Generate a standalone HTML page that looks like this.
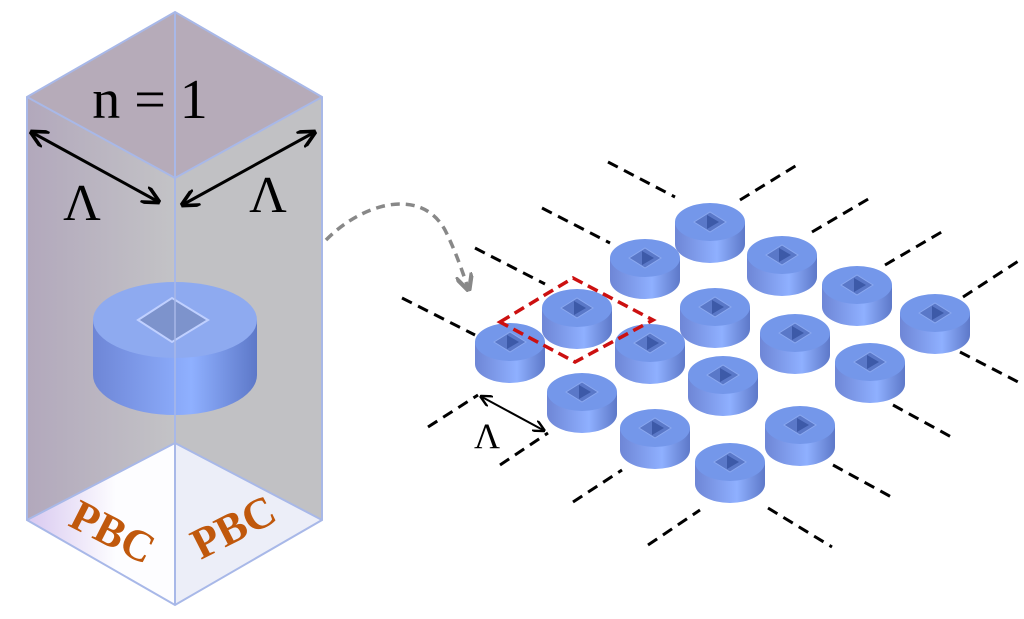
<!DOCTYPE html>
<html><head><meta charset="utf-8"><style>body{margin:0;background:#fff}svg{display:block}</style></head><body>
<svg width="1024" height="619" viewBox="0 0 1024 619" xmlns="http://www.w3.org/2000/svg">
<defs>
<linearGradient id="side" x1="0" x2="1" y1="0" y2="0">
<stop offset="0" stop-color="#6e86d6"/><stop offset="0.6" stop-color="#8fb0ff"/><stop offset="1" stop-color="#5d78c8"/></linearGradient>
<linearGradient id="lf" x1="0" x2="1"><stop offset="0" stop-color="#b2a8bc"/><stop offset="1" stop-color="#c3c3c6"/></linearGradient>
<linearGradient id="bl" x1="0" x2="1"><stop offset="0" stop-color="#d8c8f0"/><stop offset="0.6" stop-color="#fdfdff"/></linearGradient>
<marker id="ah" viewBox="0 0 10 10" refX="8" refY="5" markerWidth="6" markerHeight="6" orient="auto-start-reverse"><path d="M0,0 L10,5 L0,10" fill="none" stroke="#000" stroke-width="2"/></marker>
<marker id="ag" viewBox="0 0 10 10" refX="8" refY="5" markerWidth="5" markerHeight="5" orient="auto"><path d="M0,0 L10,5 L0,10" fill="none" stroke="#888" stroke-width="2.5"/></marker>
<g id="d">
<path d="M-35,0 L-35,22 A35,19 0 0 0 35,22 L35,0 Z" fill="url(#side)"/>
<ellipse cx="0" cy="0" rx="35" ry="19" fill="#7497ea"/>
<path d="M-16,0 L0,-10 L16,0 L0,10 Z" fill="#5a78c8" stroke="#8aa8f0" stroke-width="1"/>
<path d="M-3,-7 L9,0 L-3,7 Z" fill="#3d5aa8"/>
</g>
</defs>
<!-- left box -->
<polygon points="27,97 175,178 175,605 27,520" fill="url(#lf)"/>
<polygon points="175,178 322,97 322,520 175,605" fill="#c1c1c4"/>
<polygon points="175,12 322,97 175,178 27,97" fill="#b6abb9"/>
<polygon points="27,520 175,443 175,605" fill="url(#bl)"/>
<polygon points="175,443 322,520 175,605" fill="#eceef8"/>
<g fill="none" stroke="#a8b8e8" stroke-width="2">
<polygon points="175,12 322,97 322,520 175,605 27,520 27,97"/>
<polyline points="27,97 175,178 322,97"/><line x1="175" y1="12" x2="175" y2="605"/>
<polyline points="27,520 175,443 322,520"/></g>
<!-- disk in box -->
<path d="M93,320 L93,375 A82,40 0 0 0 257,375 L257,320 Z" fill="url(#side)"/>
<ellipse cx="175" cy="320" rx="82" ry="38" fill="#8eaaf0"/>
<path d="M138,320 L172,298 L208,320 L172,342 Z" fill="#7d93cc" stroke="#c0d0ff" stroke-width="2"/>
<line x1="175" y1="282" x2="175" y2="415" stroke="#a8b8e8" stroke-width="1.5"/>
<text x="150" y="118" font-family="Liberation Serif,serif" font-size="56" text-anchor="middle">n = 1</text>
<line x1="33" y1="133" x2="157" y2="201" stroke="#000" stroke-width="3" marker-start="url(#ah)" marker-end="url(#ah)"/>
<line x1="184" y1="204" x2="313" y2="133" stroke="#000" stroke-width="3" marker-start="url(#ah)" marker-end="url(#ah)"/>
<text x="82" y="220" font-family="Liberation Serif,serif" font-size="52" text-anchor="middle">Λ</text>
<text x="268" y="212" font-family="Liberation Serif,serif" font-size="52" text-anchor="middle">Λ</text>
<text transform="translate(106,545) rotate(27)" font-family="Liberation Serif,serif" font-weight="bold" font-size="44" fill="#c0580c" text-anchor="middle">PBC</text>
<text transform="translate(240,540) rotate(-27)" font-family="Liberation Serif,serif" font-weight="bold" font-size="44" fill="#c0580c" text-anchor="middle">PBC</text>
<!-- curved arrow -->
<path d="M326,240 C360,205 420,185 445,230 C455,250 462,270 468,288" fill="none" stroke="#888" stroke-width="3.5" stroke-dasharray="9,6" marker-end="url(#ag)"/>
<!-- dashed lattice lines -->
<g stroke="#000" stroke-width="3" stroke-dasharray="11,7">
<line x1="608" y1="162" x2="675" y2="197"/><line x1="542" y1="208" x2="610" y2="243"/>
<line x1="475" y1="248" x2="545" y2="284"/><line x1="402" y1="298" x2="475" y2="335"/>
<line x1="740" y1="200" x2="797" y2="165"/><line x1="812" y1="232" x2="870" y2="198"/>
<line x1="885" y1="265" x2="945" y2="230"/><line x1="963" y1="297" x2="1020" y2="260"/>
<line x1="428" y1="427" x2="478" y2="395"/><line x1="500" y1="465" x2="548" y2="433"/>
<line x1="573" y1="502" x2="622" y2="470"/><line x1="648" y1="545" x2="700" y2="510"/>
<line x1="960" y1="352" x2="1022" y2="384"/><line x1="893" y1="405" x2="955" y2="439"/>
<line x1="833" y1="465" x2="895" y2="499"/><line x1="768" y1="508" x2="832" y2="547"/>
</g>
<!-- disks -->
<use href="#d" x="710" y="222"/><use href="#d" x="645" y="258"/><use href="#d" x="782" y="255"/>
<use href="#d" x="577" y="308"/><use href="#d" x="715" y="307"/><use href="#d" x="857" y="285"/>
<use href="#d" x="510" y="342"/><use href="#d" x="650" y="343"/><use href="#d" x="795" y="333"/>
<use href="#d" x="935" y="313"/><use href="#d" x="582" y="392"/><use href="#d" x="723" y="375"/>
<use href="#d" x="870" y="362"/><use href="#d" x="655" y="428"/><use href="#d" x="800" y="425"/>
<use href="#d" x="730" y="462"/>
<polygon points="500,322 573,278 653,320 575,362" fill="none" stroke="#cc1010" stroke-width="3.5" stroke-dasharray="11,6"/>
<line x1="482" y1="397" x2="543" y2="430" stroke="#000" stroke-width="2" marker-start="url(#ah)" marker-end="url(#ah)"/>
<text x="487" y="448" font-family="Liberation Serif,serif" font-size="36" text-anchor="middle">Λ</text>
</svg>
</body></html>
